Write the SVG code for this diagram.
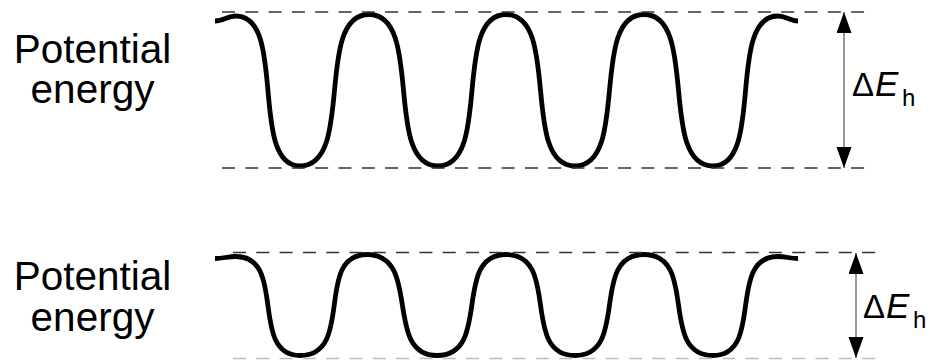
<svg xmlns="http://www.w3.org/2000/svg" width="937" height="360" viewBox="0 0 937 360">
<style>
.lbl{font-family:"Liberation Sans",Arial,sans-serif;font-size:40.5px;fill:#000;text-anchor:middle}
.de{font-family:"Liberation Sans",Arial,sans-serif;font-size:33px;fill:#000}
.it{font-style:italic;font-size:35px}
.sub{font-size:24px}
.wave{fill:none;stroke:#000;stroke-width:4.8;stroke-linecap:butt;stroke-linejoin:round}
.dash{stroke:#333;stroke-width:1.3;stroke-dasharray:13 10.3;fill:none}
.arr{stroke:#777;stroke-width:1.5;fill:none;marker-start:url(#ah);marker-end:url(#ah)}
</style>
<defs>
<marker id="ah" markerUnits="userSpaceOnUse" markerWidth="22" markerHeight="16" refX="21" refY="7.5" orient="auto-start-reverse">
<path d="M0,0 L21,7.5 L0,15 z" fill="#000"/>
</marker>
</defs>
<g id="panel-top">
<g id="label-top"><text class="lbl" x="92.5" y="63">Potential</text><text class="lbl" x="92.5" y="103">energy</text></g>
<g id="wave-top"><path class="wave" d="M215,21 C223,21 228,16 236,16 C287.2,16 248.8,166 300,166 C355.2,166 313.8,14.5 369,14.5 C424.2,14.5 382.8,166 438,166 C492.4,166 451.6,14.5 506,14.5 C561.2,14.5 519.8,166 575,166 C630.2,166 588.8,14.5 644,14.5 C699.2,14.5 657.8,166 713,166 C765,166 726,16 778,16 C786,16 790,21 798,21"/></g>
<g id="connectors-top">
<line class="dash" x1="222" y1="12" x2="868" y2="12"/>
<line class="dash" x1="222" y1="168" x2="868" y2="168"/>
<line class="arr" x1="844" y1="12" x2="844" y2="168"/>
</g>
<g id="delta-top"><text class="de" x="852" y="96">Δ<tspan class="it" x="875">E</tspan><tspan class="sub" x="902" dy="10">h</tspan></text></g>
</g>
<g id="panel-bottom">
<g id="label-bottom"><text class="lbl" x="92.5" y="290">Potential</text><text class="lbl" x="92.5" y="331">energy</text></g>
<g id="wave-bottom"><path class="wave" d="M215,258.5 C223,258.5 228,256.5 236,256.5 C287.2,256.5 248.8,355.5 300,355.5 C355.2,355.5 313.8,254.5 367,254.5 C422.2,254.5 382.8,355.5 437,355.5 C492.4,355.5 451.6,254.5 506,254.5 C561.2,254.5 519.8,355.5 575,355.5 C630.2,355.5 588.8,254.5 644,254.5 C699.2,254.5 657.8,355.5 713,355.5 C765,355.5 726,256.5 778,256.5 C786,256.5 790,258.5 798,258.5"/></g>
<g id="connectors-bottom">
<line class="dash" x1="233" y1="252.5" x2="880" y2="252.5"/>
<line class="dash" x1="233" y1="358.5" x2="880" y2="358.5" style="stroke:#bbb"/>
<line class="arr" x1="856" y1="253" x2="856" y2="358"/>
</g>
<g id="delta-bottom"><text class="de" x="863" y="318">Δ<tspan class="it" x="886">E</tspan><tspan class="sub" x="913" dy="10">h</tspan></text></g>
</g>
</svg>
